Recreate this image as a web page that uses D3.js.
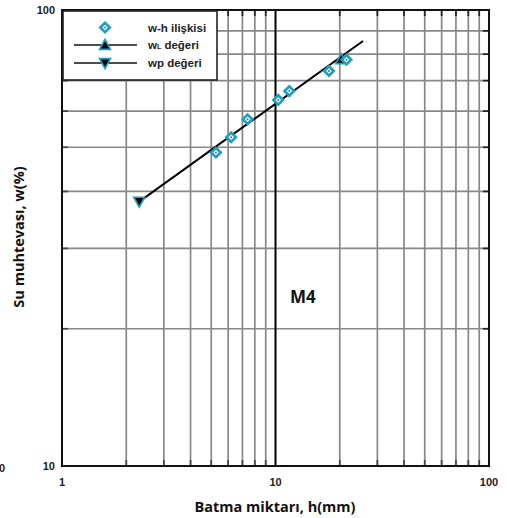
<!DOCTYPE html>
<html>
<head>
<meta charset="utf-8">
<script src="https://cdn.jsdelivr.net/npm/d3@7"></script>
<style>
  html, body { margin: 0; padding: 0; background: #fff; }
  svg { display: block; }
</style>
</head>
<body>
<script>
// Measured penetration (h, mm) and water content (w, %) pairs
const penetration = [5.26, 6.2, 7.4, 10.3, 11.6, 17.8, 21.5];
const waterContent = [48.7, 52.6, 57.6, 63.5, 66.4, 73.5, 77.8];

// Liquid and plastic limit points [h, w]
const liquidLimit = [20.3, 78.0];
const plasticLimit = [2.3, 38.0];

// Fitted line end points
const fitH = [2.3, 25.7];
const fitW = [38.0, 85.5];

// Axis ticks
const xMajor = [1, 10, 100];
const xMinor = [2, 3, 4, 5, 6, 7, 8, 9, 20, 30, 40, 50, 60, 70, 80, 90];
const yMajor = [10, 100];
const yMinor = [20, 30, 40, 50, 60, 70, 80, 90];

const legendLabels = ["w-h ilişkisi", "wL değeri", "wp değeri"];

const W = 507, H = 518;
const plot = { left: 62, top: 10, width: 427, height: 456 };
const cyan = "#1d9fc2";

const svg = d3.select("body").append("svg").attr("width", W).attr("height", H);

const x = d3.scaleLog().domain([1, 100]).range([plot.left, plot.left + plot.width]);
const y = d3.scaleLog().domain([10, 100]).range([plot.top + plot.height, plot.top]);

const g = svg.append("g");

// grid lines
g.selectAll("line.vgrid").data(xMinor).join("line")
  .attr("x1", d => x(d)).attr("x2", d => x(d))
  .attr("y1", plot.top).attr("y2", plot.top + plot.height)
  .attr("stroke", "#888").attr("stroke-width", 1.7);
g.selectAll("line.hgrid").data(yMinor).join("line")
  .attr("x1", plot.left).attr("x2", plot.left + plot.width)
  .attr("y1", d => y(d)).attr("y2", d => y(d))
  .attr("stroke", "#888").attr("stroke-width", 1.7);

// inward ticks on all four sides
const tl = 6;
g.selectAll("line.ttop").data(xMinor).join("line")
  .attr("x1", d => x(d)).attr("x2", d => x(d))
  .attr("y1", plot.top).attr("y2", plot.top + tl)
  .attr("stroke", "#222").attr("stroke-width", 1.7);
g.selectAll("line.tbot").data(xMinor).join("line")
  .attr("x1", d => x(d)).attr("x2", d => x(d))
  .attr("y1", plot.top + plot.height).attr("y2", plot.top + plot.height - tl)
  .attr("stroke", "#444").attr("stroke-width", 1.7);
g.selectAll("line.tleft").data(yMinor).join("line")
  .attr("x1", plot.left).attr("x2", plot.left + tl)
  .attr("y1", d => y(d)).attr("y2", d => y(d))
  .attr("stroke", "#444").attr("stroke-width", 1.7);
g.selectAll("line.tright").data(yMinor).join("line")
  .attr("x1", plot.left + plot.width).attr("x2", plot.left + plot.width - tl)
  .attr("y1", d => y(d)).attr("y2", d => y(d))
  .attr("stroke", "#222").attr("stroke-width", 1.7);

// decade line at h = 10
g.append("line")
  .attr("x1", x(10)).attr("x2", x(10))
  .attr("y1", plot.top).attr("y2", plot.top + plot.height)
  .attr("stroke", "#000").attr("stroke-width", 2);

// frame
g.append("rect")
  .attr("x", plot.left).attr("y", plot.top)
  .attr("width", plot.width).attr("height", plot.height)
  .attr("fill", "none").attr("stroke", "#111").attr("stroke-width", 2);

// tick labels
const tickFont = "'Liberation Sans', Arial, sans-serif";
svg.selectAll("text.xt").data(xMajor).join("text")
  .attr("x", d => x(d)).attr("y", 486)
  .attr("text-anchor", "middle")
  .attr("font-family", tickFont).attr("font-weight", "bold").attr("font-size", 11)
  .attr("fill", "#222").text(d => d);
svg.selectAll("text.yt").data(yMajor).join("text")
  .attr("x", 55).attr("y", d => y(d) + 4)
  .attr("text-anchor", "end")
  .attr("font-family", tickFont).attr("font-weight", "bold").attr("font-size", 11)
  .attr("fill", "#222").text(d => d);
// clipped label at the left edge
svg.append("text")
  .attr("x", -1).attr("y", 472)
  .attr("font-family", tickFont).attr("font-weight", "bold").attr("font-size", 11)
  .attr("fill", "#222").text("0");

// fitted line
const lineGen = d3.line().x(d => x(d[0])).y(d => y(d[1]));
g.append("path")
  .datum(fitH.map((h, i) => [h, fitW[i]]))
  .attr("d", lineGen)
  .attr("fill", "none").attr("stroke", "#000").attr("stroke-width", 2);

// markers
const diamond = d3.symbol().type(d3.symbolSquare).size(44);
function drawDiamond(sel, cx, cy) {
  const gg = sel.append("g").attr("transform", `translate(${cx},${cy})`);
  gg.append("path").attr("d", diamond()).attr("transform", "rotate(45)")
    .attr("fill", "#fff").attr("stroke", cyan).attr("stroke-width", 2.7);
  gg.append("circle").attr("r", 1).attr("fill", "#666");
}
function drawTriangle(sel, cx, cy, up) {
  const s = 5.5;
  const pts = up
    ? [[0, -s], [s, s * 0.8], [-s, s * 0.8]]
    : [[0, s], [s, -s * 0.8], [-s, -s * 0.8]];
  sel.append("path")
    .attr("d", "M" + pts.map(p => [cx + p[0], cy + p[1]].join(",")).join("L") + "Z")
    .attr("fill", "#000").attr("stroke", cyan).attr("stroke-width", 1.6)
    .attr("stroke-linejoin", "miter");
}

drawTriangle(g, x(plasticLimit[0]), y(plasticLimit[1]), false);
drawTriangle(g, x(liquidLimit[0]), y(liquidLimit[1]), true);
penetration.forEach((h, i) => drawDiamond(g, x(h), y(waterContent[i])));

// M4 label
svg.append("text")
  .attr("x", 290).attr("y", 303)
  .attr("font-family", "'Open Sans', sans-serif").attr("font-weight", "bold")
  .attr("font-size", 17).attr("fill", "#111").text("M4");

// legend
const lg = svg.append("g");
lg.append("rect")
  .attr("x", 63).attr("y", 11).attr("width", 154).attr("height", 69)
  .attr("fill", "#fff").attr("stroke", "#222").attr("stroke-width", 1.6);
const rowY = [27.5, 45, 63];
const legFont = "'Liberation Sans', Arial, sans-serif";
drawDiamond(lg, 105, rowY[0]);
[1, 2].forEach(i => {
  lg.append("line").attr("x1", 74).attr("x2", 137)
    .attr("y1", rowY[i]).attr("y2", rowY[i])
    .attr("stroke", "#111").attr("stroke-width", 1.6);
});
drawTriangle(lg, 105, rowY[1], true);
drawTriangle(lg, 105, rowY[2], false);

lg.append("text").attr("x", 148).attr("y", rowY[0] + 4)
  .attr("font-family", legFont).attr("font-weight", "bold").attr("font-size", 11.5)
  .attr("fill", "#222").text(legendLabels[0]);
const t2 = lg.append("text").attr("x", 148).attr("y", rowY[1] + 4)
  .attr("font-family", legFont).attr("font-weight", "bold").attr("font-size", 11.5)
  .attr("fill", "#222");
t2.append("tspan").text(legendLabels[1].slice(0, 1));
t2.append("tspan").attr("font-size", 7).text(legendLabels[1].slice(1, 2));
t2.append("tspan").text(legendLabels[1].slice(2));
lg.append("text").attr("x", 148).attr("y", rowY[2] + 4)
  .attr("font-family", legFont).attr("font-weight", "bold").attr("font-size", 11.5)
  .attr("fill", "#222").text(legendLabels[2]);

// axis titles
svg.append("text")
  .attr("x", 275).attr("y", 512).attr("text-anchor", "middle")
  .attr("font-family", "'Open Sans', sans-serif").attr("font-weight", "bold")
  .attr("font-size", 14.5).attr("fill", "#111").text("Batma miktarı, h(mm)");
svg.append("text")
  .attr("transform", "translate(24,237) rotate(-90)").attr("text-anchor", "middle")
  .attr("font-family", "'Open Sans', sans-serif").attr("font-weight", "bold")
  .attr("font-size", 14.5).attr("fill", "#111").text("Su muhtevası, w(%)");
</script>
</body>
</html>
